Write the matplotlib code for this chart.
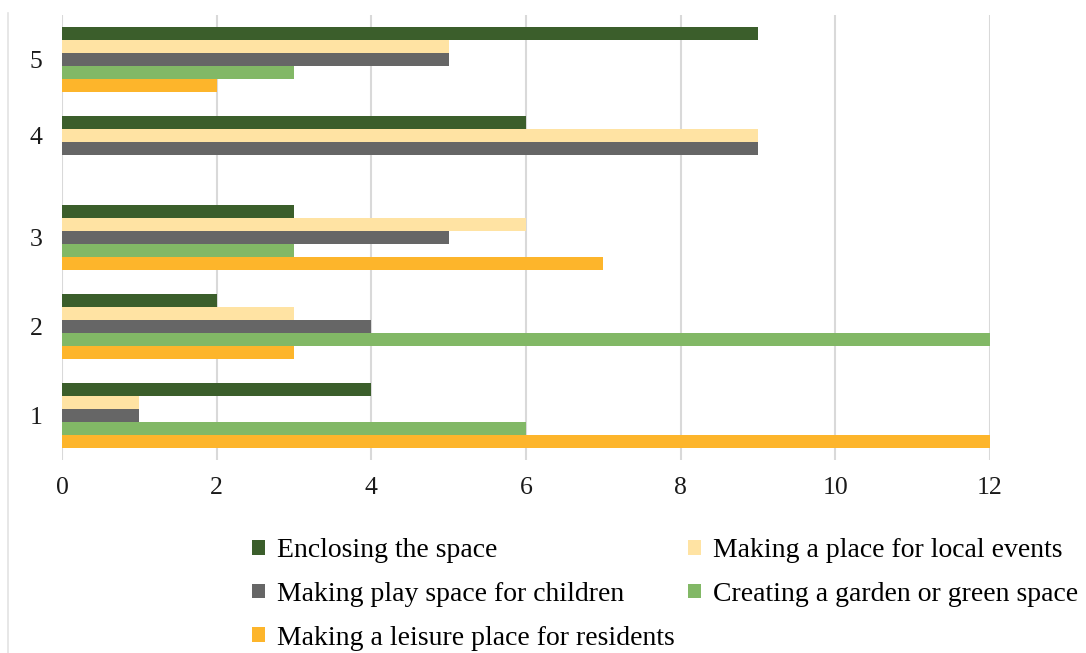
import numpy as np
import matplotlib
matplotlib.use("Agg")
import matplotlib.pyplot as plt
from matplotlib.patches import Patch
from matplotlib.lines import Line2D

plt.rcParams['font.family'] = ['Liberation Serif', 'DejaVu Serif']

# Data
categories = [1, 2, 3, 4, 5]
series = ["Enclosing the space",
          "Making a place for local events",
          "Making play space for children",
          "Creating a garden or green space",
          "Making a leisure place for residents"]
enclosing = [4, 2, 3, 6, 9]
local_events = [1, 3, 6, 9, 5]
play_space = [1, 4, 5, 9, 5]
garden = [6, 12, 3, None, 3]
leisure = [12, 3, 7, None, 2]
x_ticks = [0, 2, 4, 6, 8, 10, 12]

colors = ["#3B5E2B", "#FFE3A3", "#666666", "#82B866", "#FDB52B"]
values = [enclosing, local_events, play_space, garden, leisure]

fig = plt.figure(figsize=(10.86, 6.53), dpi=100)
ax = fig.add_axes([62/1086, 1 - 460/653, 928/1086, 445/653])

h = 13 / 89.0  # bar height in category units
tick_pos = []
for c_idx, cat in enumerate(categories):
    offs = []
    for s_idx, vals in enumerate(values):
        v = vals[c_idx]
        if v is None:
            continue
        off = (2 - s_idx) * h
        offs.append(off)
        ax.barh(cat + off, v, height=h, color=colors[s_idx], zorder=3)
    tick_pos.append(cat + np.mean(offs))

ax.set_xlim(0, 12)
ax.set_ylim(0.5, 5.5)
ax.set_xticks(x_ticks)
ax.set_xticklabels([str(t) for t in x_ticks])
ax.set_yticks(tick_pos)
ax.set_yticklabels([str(c) for c in categories])
ax.tick_params(axis='both', length=0, labelsize=18.5, colors="#1a1a1a")
ax.tick_params(axis='y', pad=14)
ax.tick_params(axis='x', pad=12)
ax.xaxis.grid(True, color="#D9D9D9", linewidth=1.5, zorder=0)
for sp in ax.spines.values():
    sp.set_visible(False)

# legend: row-wise order via column-first handle order
order = [0, 2, 4, 1, 3]
handles = [Patch(facecolor=colors[i], edgecolor='none') for i in order]
labels = [series[i] for i in order]
fig.legend(handles, labels, loc='upper left',
           bbox_to_anchor=(252/1086, 1 - 538/653), ncol=2, frameon=False,
           fontsize=20, handlelength=0.45, handleheight=0.45,
           handletextpad=0.45, columnspacing=0.48, labelspacing=0.68,
           borderpad=0, borderaxespad=0)

# faint left border of the original chart frame
fig.add_artist(Line2D([8/1086, 8/1086], [0, 1 - 13/653],
                      transform=fig.transFigure, color="#E3E3E3", linewidth=1.2))

fig.savefig("out.png", dpi=100)
